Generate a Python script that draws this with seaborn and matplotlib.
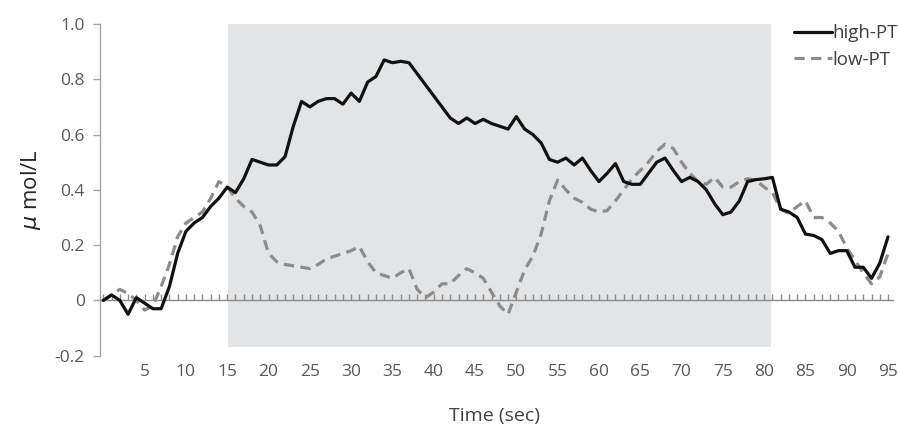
import numpy as np
import pandas as pd
import matplotlib
matplotlib.use("Agg")
import matplotlib.pyplot as plt
import seaborn as sns
from matplotlib.ticker import FixedLocator, FuncFormatter

time_sec = list(range(96))
high_pt = [0.00, 0.02, 0.00, -0.05, 0.01, -0.01, -0.03, -0.03, 0.05, 0.17,
           0.25, 0.28, 0.30, 0.34, 0.37, 0.41, 0.39, 0.44, 0.51, 0.50,
           0.49, 0.49, 0.52, 0.63, 0.72, 0.70, 0.72, 0.73, 0.73, 0.71,
           0.75, 0.72, 0.79, 0.81, 0.87, 0.86, 0.865, 0.86, 0.82, 0.78,
           0.74, 0.70, 0.66, 0.64, 0.66, 0.64, 0.655, 0.64, 0.63, 0.62,
           0.665, 0.62, 0.60, 0.57, 0.51, 0.50, 0.515, 0.49, 0.515, 0.47,
           0.43, 0.46, 0.495, 0.43, 0.42, 0.42, 0.46, 0.50, 0.515, 0.47,
           0.43, 0.445, 0.43, 0.40, 0.35, 0.31, 0.32, 0.36, 0.43, 0.437,
           0.44, 0.445, 0.33, 0.32, 0.30, 0.24, 0.235, 0.22, 0.17, 0.18,
           0.18, 0.12, 0.12, 0.08, 0.135, 0.23]
low_pt = [0.00, 0.02, 0.04, 0.025, 0.00, -0.035, -0.02, 0.05, 0.13, 0.23,
          0.28, 0.30, 0.32, 0.37, 0.43, 0.41, 0.37, 0.34, 0.32, 0.27,
          0.17, 0.14, 0.13, 0.125, 0.12, 0.115, 0.13, 0.15, 0.16, 0.17,
          0.18, 0.195, 0.14, 0.10, 0.09, 0.08, 0.10, 0.115, 0.04, 0.01,
          0.03, 0.06, 0.06, 0.09, 0.115, 0.10, 0.08, 0.03, -0.02, -0.05,
          0.03, 0.11, 0.16, 0.24, 0.36, 0.435, 0.40, 0.37, 0.355, 0.33,
          0.32, 0.325, 0.36, 0.40, 0.44, 0.47, 0.50, 0.54, 0.565, 0.55,
          0.50, 0.46, 0.43, 0.42, 0.445, 0.41, 0.41, 0.43, 0.44, 0.435,
          0.41, 0.39, 0.33, 0.315, 0.34, 0.36, 0.30, 0.30, 0.28, 0.25,
          0.19, 0.145, 0.10, 0.06, 0.085, 0.17]
x_labels = [5, 10, 15, 20, 25, 30, 35, 40, 45, 50, 55, 60, 65, 70, 75, 80, 85, 90, 95]
y_ticks = [-0.2, 0, 0.2, 0.4, 0.6, 0.8, 1.0]
shade_start, shade_end = 15.1, 80.8

sns.set_style("white")
plt.rcParams['font.family'] = ['Open Sans', 'DejaVu Sans']

fig = plt.figure(figsize=(8.98, 4.33), dpi=100)
ax = fig.add_axes([100/898, 1 - 355.7/433, 793/898, (355.7 - 24)/433])

ax.fill_between([shade_start, shade_end], -0.17, 1.0, color='#e3e4e6', lw=0, zorder=0)

df = pd.DataFrame({'t': time_sec, 'high': high_pt, 'low': low_pt})
sns.lineplot(data=df, x='t', y='high', ax=ax, color='#111111', lw=2.3,
             label='high-PT', zorder=3)
sns.lineplot(data=df, x='t', y='low', ax=ax, color='#8c8c8c', lw=2.3,
             linestyle=(0, (3.2, 2.0)), label='low-PT', zorder=2)

ax.set_xlim(-0.4, 95.6)
ax.set_ylim(-0.2, 1.0)

for s in ['top', 'right']:
    ax.spines[s].set_visible(False)
ax.spines['left'].set_color('#a6a6a6')
ax.spines['left'].set_linewidth(1.0)
ax.spines['bottom'].set_position(('data', 0))
ax.spines['bottom'].set_color('#8c8c8c')
ax.spines['bottom'].set_linewidth(1.0)

ax.xaxis.set_major_locator(FixedLocator(x_labels))
ax.xaxis.set_minor_locator(FixedLocator(time_sec))
ax.set_xticklabels([str(v) for v in x_labels])
ax.tick_params(axis='x', which='both', direction='in', length=4, width=1,
               color='#8c8c8c', bottom=True)
ax.tick_params(axis='x', which='major', pad=46, labelsize=12.5, labelcolor='#595959')

ax.yaxis.set_major_locator(FixedLocator(y_ticks))
ax.yaxis.set_major_formatter(FuncFormatter(lambda v, p: '0' if abs(v) < 1e-9 else f'{v:.1f}'))
ax.tick_params(axis='y', direction='out', length=5, width=1, color='#a6a6a6',
               labelsize=12.5, labelcolor='#595959', left=True, pad=6)

ax.set_xlabel('Time (sec)', fontsize=14, color='#404040')
ax.xaxis.set_label_coords(0.497, -0.155)
ax.set_ylabel(r'$\mu$ mol/L', fontsize=16, color='#262626')
ax.yaxis.set_label_coords(-0.072, 0.5)

leg = ax.legend(loc='upper right', bbox_to_anchor=(1.028, 1.05), frameon=False,
                handlelength=2.0, handletextpad=0.05, labelspacing=0.45,
                fontsize=13.5, labelcolor='#404040')

fig.savefig('out.png', dpi=100)
